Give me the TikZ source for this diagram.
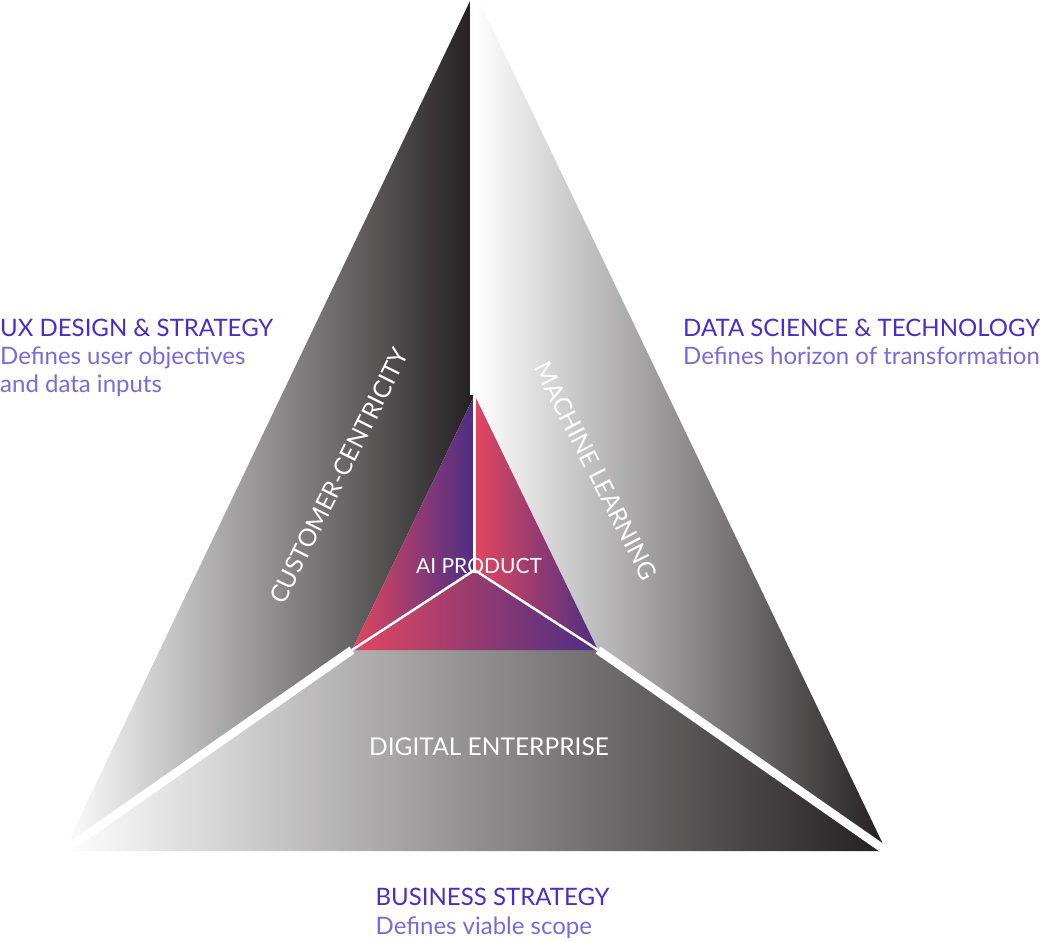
\documentclass[tikz,border=0pt]{standalone}
\usepackage{fontspec}
\setmainfont{Lato}
\definecolor{ink}{HTML}{231F20}
\definecolor{aired}{HTML}{E2475F}
\definecolor{aipurple}{HTML}{4B2E83}
\definecolor{headblue}{HTML}{4A2BCB}
\definecolor{desclilac}{HTML}{7B69DC}
\begin{document}
\begin{tikzpicture}[x=1pt,y=-1pt,
  outer/.style={left color=white, right color=ink},
  innerpart/.style={left color=aired, right color=aipurple},
  gap/.style={draw=white, line width=8.5pt},
  divider/.style={draw=white, line width=2.5pt},
  lbl/.style={text=white, inner sep=0pt, font=\fontsize{24.5}{29}\selectfont},
  head/.style={text=headblue, inner sep=0pt, anchor=base west, font=\fontsize{24}{28}\selectfont},
  desc/.style={text=desclilac, inner sep=0pt, anchor=base west, font=\fontsize{24}{28}\selectfont}]
\useasboundingbox (0,0) rectangle (1044,940);
% outer and inner corners
\coordinate (A) at (474.5,-8.4);
\coordinate (L) at (63.7,851);
\coordinate (R) at (886.3,851);
\coordinate (I1) at (474.5,395);
\coordinate (I2) at (352,650);
\coordinate (I3) at (598,650);
\coordinate (C) at (474.5,570);
% outer pieces
\shade[outer] (A) -- (L) -- (I2) -- (I1) -- cycle;
\shade[outer] (A) -- (I1) -- (I3) -- (R) -- cycle;
\shade[outer] (L) -- (I2) -- (I3) -- (R) -- cycle;
% white gaps
\draw[gap] (A) -- (I1);
\draw[gap, shorten >=-12pt] (I2) -- (L);
\draw[gap, shorten >=-12pt] (I3) -- (R);
% inner triangle
\shade[innerpart] (I1) -- (I2) -- (C) -- cycle;
\shade[innerpart] (I1) -- (C) -- (I3) -- cycle;
\shade[innerpart] (I2) -- (C) -- (I3) -- cycle;
\draw[divider] (C) -- (I1);
\draw[divider] (C) -- (I2);
\draw[divider] (C) -- (I3);
% labels on the pieces
\node[lbl, rotate=63.5] (cc) at (339,476) {CUSTOMER-CENTRICITY};
\node[lbl, rotate=-63] (ml) at (596,471) {MACHINE LEARNING};
\node[lbl, anchor=base] (de) at (489,755) {DIGITAL ENTERPRISE};
\node[lbl, anchor=base, font=\fontsize{21}{25}\selectfont] (ai) at (479,573) {AI PRODUCT};
% captions
\node[head] (uxh) at (0,336) {UX DESIGN \& STRATEGY};
\node[desc] (uxd1) at (0,364) {Defines user objectives};
\node[desc] (uxd2) at (0,392) {and data inputs};
\node[head] (dsh) at (683,336) {DATA SCIENCE \& TECHNOLOGY};
\node[desc] (dsd) at (683,364) {Defines horizon of transformation};
\node[head] (bsh) at (375.5,905.5) {BUSINESS STRATEGY};
\node[desc] (bsd) at (375.5,934) {Defines viable scope};
\end{tikzpicture}
\end{document}
